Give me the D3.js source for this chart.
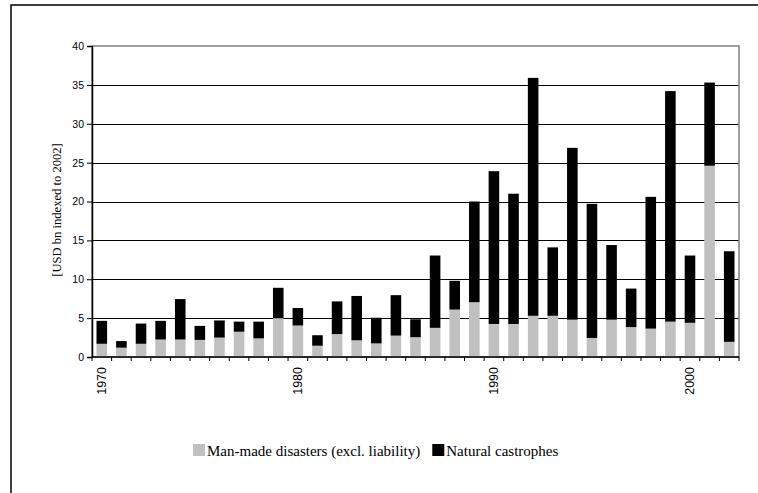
<!DOCTYPE html>
<html>
<head>
<meta charset="utf-8">
<script src="https://cdn.jsdelivr.net/npm/d3@7"></script>
<style>
  body { margin: 0; background: #fff; }
  svg { display: block; }
</style>
</head>
<body>
<div id="chart"></div>
<script>
// data
const years = d3.range(1970, 2003);
const manMade = [1.7, 1.2, 1.7, 2.25, 2.25, 2.2, 2.5, 3.25, 2.4, 5.0, 4.05, 1.45, 2.95, 2.15, 1.75, 2.75, 2.55,
    3.75, 6.1, 7.05, 4.25, 4.25, 5.3, 5.3, 4.8, 2.45, 4.8, 3.85, 3.65, 4.55, 4.4, 24.6, 1.95];
const natural = [2.95, 0.85, 2.6, 2.4, 5.2, 1.8, 2.2, 1.3, 2.15, 3.9, 2.25, 1.35, 4.2, 5.7, 3.3, 5.2, 2.3,
    9.3, 3.7, 12.95, 19.65, 16.75, 30.6, 8.8, 22.1, 17.25, 9.6, 4.95, 16.95, 29.65, 8.65, 10.7, 11.65];
const seriesNames = ["Man-made disasters (excl. liability)", "Natural castrophes"];
const seriesColors = ["#c0c0c0", "#000000"];
const yTicks = [0, 5, 10, 15, 20, 25, 30, 35, 40];
const yearLabels = [1970, 1980, 1990, 2000];

const W = 758, H = 493;
const margin = {top: 46, right: 19, bottom: 136, left: 92};
const width = W - margin.left - margin.right;
const height = H - margin.top - margin.bottom;

const svg = d3.select("#chart").append("svg")
    .attr("width", W)
    .attr("height", H);

// outer frame (only left/top visible)
svg.append("rect")
    .attr("x", 11).attr("y", 5)
    .attr("width", W + 20).attr("height", H + 20)
    .attr("fill", "none")
    .attr("stroke", "#000")
    .attr("stroke-width", 1.5);

const g = svg.append("g")
    .attr("transform", "translate(" + margin.left + "," + margin.top + ")");

const rows = years.map((yr, i) => ({year: yr, manMade: manMade[i], natural: natural[i]}));
const stack = d3.stack().keys(["manMade", "natural"]);
const layers = stack(rows);

const x = d3.scaleBand()
    .domain(years)
    .range([0, width])
    .paddingInner(0.46)
    .paddingOuter(0.23);

const y = d3.scaleLinear()
    .domain([0, 40])
    .range([height, 0]);

// gridlines
g.selectAll(".grid")
    .data(yTicks.filter(d => d > 0 && d < 40))
    .enter().append("line")
    .attr("class", "grid")
    .attr("x1", 0).attr("x2", width)
    .attr("y1", d => Math.round(y(d)) + 0.5)
    .attr("y2", d => Math.round(y(d)) + 0.5)
    .attr("stroke", "#000")
    .attr("stroke-width", 1);

// plot area border
g.append("rect")
    .attr("x", 0).attr("y", 0)
    .attr("width", width).attr("height", height)
    .attr("fill", "none")
    .attr("stroke", "#808080")
    .attr("stroke-width", 1.5);

// bars
g.selectAll(".layer")
    .data(layers)
    .enter().append("g")
    .attr("class", "layer")
    .attr("fill", (d, i) => seriesColors[i])
    .selectAll("rect")
    .data(d => d)
    .enter().append("rect")
    .attr("x", d => x(d.data.year))
    .attr("y", d => y(d[1]))
    .attr("width", x.bandwidth())
    .attr("height", d => y(d[0]) - y(d[1]));

// y axis
const yAxis = d3.axisLeft(y).tickValues(yTicks).tickSize(5).tickPadding(3);
const yAxisGroup = g.append("g").call(yAxis);
yAxisGroup.select(".domain").attr("stroke", "#000").attr("stroke-width", 1.5);
yAxisGroup.selectAll(".tick line").attr("stroke", "#000");
yAxisGroup.selectAll("text")
    .attr("font-family", "Arial, 'Liberation Sans', sans-serif")
    .attr("font-size", "10.5px")
    .attr("fill", "#000");

// x axis baseline and ticks between categories
g.append("line")
    .attr("x1", 0).attr("x2", width)
    .attr("y1", height).attr("y2", height)
    .attr("stroke", "#000")
    .attr("stroke-width", 1.5);

g.selectAll(".xtick")
    .data(d3.range(years.length + 1))
    .enter().append("line")
    .attr("class", "xtick")
    .attr("x1", i => i * x.step())
    .attr("x2", i => i * x.step())
    .attr("y1", height)
    .attr("y2", height + 4)
    .attr("stroke", "#000");

// year labels
const xAxis = d3.axisBottom(x).tickValues(yearLabels).tickSize(0);
const xAxisGroup = g.append("g")
    .attr("transform", "translate(0," + height + ")")
    .call(xAxis);
xAxisGroup.select(".domain").remove();
xAxisGroup.selectAll("text")
    .attr("font-family", "Arial, 'Liberation Sans', sans-serif")
    .attr("font-size", "12.5px")
    .attr("fill", "#000")
    .attr("text-anchor", "end")
    .attr("dy", "0.35em")
    .attr("transform", "translate(0,10) rotate(-90)")
    .attr("y", 0)
    .attr("x", 0);

// y title
svg.append("text")
    .attr("transform", "translate(61,210) rotate(-90)")
    .attr("text-anchor", "middle")
    .attr("font-family", "'Liberation Serif', 'Times New Roman', serif")
    .attr("font-size", "12.6px")
    .text("[USD bn indexed to 2002]");

// legend
const legend = svg.append("g").attr("transform", "translate(193,444)");
let lx = 0;
seriesNames.forEach((name, i) => {
    const item = legend.append("g").attr("transform", "translate(" + lx + ",0)");
    item.append("rect")
        .attr("width", 12).attr("height", 12)
        .attr("fill", seriesColors[i]);
    const t = item.append("text")
        .attr("x", 14).attr("y", 11.5)
        .attr("font-family", "'Liberation Serif', 'Times New Roman', serif")
        .attr("font-size", "15px")
        .text(name);
    lx += 14 + t.node().getComputedTextLength() + 12;
});
</script>
</body>
</html>
